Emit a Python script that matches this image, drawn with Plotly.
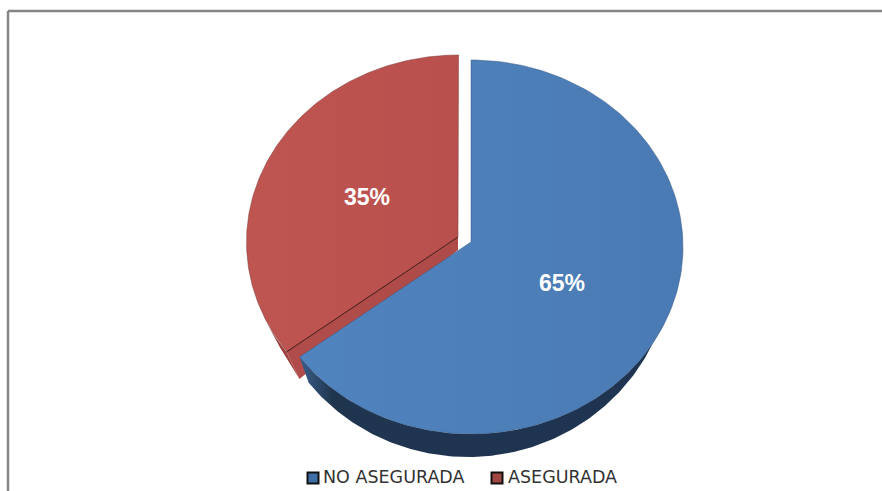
import numpy as np
import plotly.graph_objects as go

# data
labels = ["NO ASEGURADA", "ASEGURADA"]
values = [65, 35]
top_colors = [["#5084BF", "#4A7AB3"], ["#BF5551", "#B9504D"]]

W, H = 882, 491
RX, RY = 212, 187
# blue slice sits at its own spot, the red one is pulled out up and left
centers = [(471, 247), (458, 242)]
apex_lift = 5
# lower rim of the 3d wall is its own ellipse
LOW_CX, LOW_CY, LOW_RX, LOW_RY = 468, 257, 205, 200


def rim(cx, cy, t0, t1, n=160, rx=RX, ry=RY):
    t = np.radians(np.linspace(t0, t1, n))
    return cx + rx * np.sin(t), cy - ry * np.cos(t)


angles = np.cumsum([0] + values) / sum(values) * 360
fig = go.Figure()


def poly(x, y, stops, line="rgba(0,0,0,0)", width=0.7):
    fig.add_trace(go.Scatter(
        x=x, y=y, mode="lines", fill="toself",
        fillgradient=dict(type="horizontal", colorscale=stops),
        line=dict(color=line, width=width),
        hoverinfo="skip", showlegend=False,
    ))


# red slice: outer sliver, cut face, then top
cx, cy = centers[1]
t0, t1 = angles[1], angles[2]
ax, ay = cx, cy - apex_lift
ex, ey = rim(cx, cy, t0, t0, 1)
tip_x, tip_y = ex[0] + 13, ey[0] + 27
s = np.linspace(0, 1, 20)
x1, y1 = rim(cx, cy, t0, t0 + 12, 20)
x2, y2 = rim(cx, cy, t0 + 12, t0, 20)
poly(np.r_[x1, x2 + s * 13], np.r_[y1, y2 + s * 27], [[0, "#8F3A38"], [1, "#A84745"]])
poly([ax, ex[0], tip_x, ax], [ay, ey[0], tip_y, ay + 13], [[0, "#B04C49"], [1, "#AE4A47"]])
x, y = rim(cx + 0.5, cy, t0, t1)
poly(np.r_[ax, x, ax], np.r_[ay, y, ay], [[0, top_colors[1][0]], [1, top_colors[1][1]]],
     line="#7A3836", width=0.5)
fig.add_trace(go.Scatter(x=[ax, ex[0]], y=[ay, ey[0]], mode="lines",
                         line=dict(color="#4A1F1E", width=1), hoverinfo="skip", showlegend=False))

# blue slice: wall then top
cx, cy = centers[0]
t0, t1 = angles[0], angles[1]
ax, ay = cx, cy - apex_lift
x1, y1 = rim(cx, cy, 115, t1)
x2, y2 = rim(LOW_CX, LOW_CY, 115, t1 - 3, rx=LOW_RX, ry=LOW_RY)
poly(np.r_[x1, x2[::-1]], np.r_[y1, y2[::-1]],
     [[0, "#3A5F8C"], [0.09, "#20364F"], [0.3, "#1E3450"], [1, "#1E3450"]])
x, y = rim(cx, cy, t0, t1)
poly(np.r_[ax, x, ax], np.r_[ay, y, ay], [[0, top_colors[0][0]], [1, top_colors[0][1]]],
     line="#3A5A82", width=0.5)

# percent labels
fig.add_trace(go.Scatter(
    x=[562, 367], y=[285, 199], mode="text",
    text=[f"{v}%" for v in values],
    textfont=dict(family="Liberation Sans", size=23, color="white", weight="bold"),
    hoverinfo="skip", showlegend=False,
))

# legend keys and their names
fig.add_trace(go.Scatter(
    x=[313, 497], y=[478, 478], mode="markers",
    marker=dict(symbol="square", size=11, color=["#3F6EA6", "#A04643"],
                line=dict(color="#111111", width=2)),
    hoverinfo="skip", showlegend=False, cliponaxis=False,
))
fig.add_trace(go.Scatter(
    x=[323, 508], y=[479, 479], mode="text",
    text=labels, textposition="middle right",
    textfont=dict(family="DejaVu Sans", size=17.5, color="#333333"),
    hoverinfo="skip", showlegend=False, cliponaxis=False,
))

fig.update_layout(
    width=W, height=H, margin=dict(l=0, r=0, t=0, b=0),
    paper_bgcolor="white", plot_bgcolor="white", showlegend=False,
    xaxis=dict(range=[0, W], visible=False, fixedrange=True),
    yaxis=dict(range=[H, 0], visible=False, fixedrange=True),
    # frame of the original picture: only top and left are in view
    shapes=[
        dict(type="line", x0=8, x1=W, y0=11, y1=11, line=dict(color="#858585", width=2.5)),
        dict(type="line", x0=8, x1=8, y0=11, y1=H, line=dict(color="#858585", width=2.5)),
    ],
)

# the page's default body margin would push the chart 8px in
fig.write_html("out.html", config={"displayModeBar": False},
               post_script="document.body.style.margin='0';document.documentElement.style.overflow='hidden';")
